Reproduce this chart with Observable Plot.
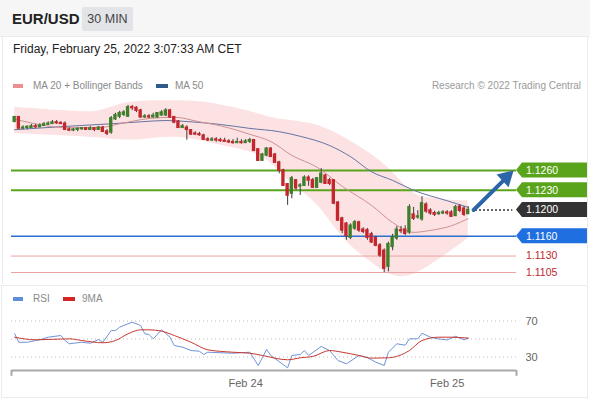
<!DOCTYPE html>
<html><head><meta charset="utf-8">
<script src="https://cdn.jsdelivr.net/npm/d3@7"></script>
<script src="https://cdn.jsdelivr.net/npm/@observablehq/plot@0.6"></script>
<style>
html,body{margin:0;padding:0;background:#fff;}
body{width:590px;height:400px;position:relative;overflow:hidden;font-family:"Liberation Sans",Arial,Helvetica,sans-serif;}
.abs{position:absolute;white-space:nowrap;}
#topbar{left:0;top:0;width:590px;height:36px;background:#f6f6f6;border-bottom:1px solid #ebebeb;}
#sym{left:12px;top:10px;font-size:15px;font-weight:bold;color:#222;}
#tf{left:82px;top:7px;width:51px;height:24px;background:#e2e4e8;border-radius:2px;font-size:12.5px;color:#444;line-height:24px;text-align:center;}
#date{left:13px;top:42px;font-size:12px;color:#222;}
.leg{font-size:10px;color:#8a8a8a;line-height:12px;}
.sw{position:absolute;width:10px;height:4px;}
#card1{left:2px;top:37px;width:584px;height:247px;border-left:1px solid #ececec;border-right:1px solid #ececec;}
#card2{left:1px;top:285px;width:585px;height:111px;border:1px solid #ececec;}
#main{left:0;top:100px;}
#rsi{left:0;top:310px;}
</style></head><body>
<div id="topbar" class="abs"></div>
<div id="card1" class="abs"></div>
<div id="card2" class="abs"></div>
<div id="sym" class="abs">EUR/USD</div>
<div id="tf" class="abs">30 MIN</div>
<div id="date" class="abs">Friday, February 25, 2022 3:07:33 AM CET</div>
<div class="sw" style="left:13px;top:84px;background:#ee8e8e"></div>
<div class="abs leg" style="left:33px;top:80px">MA 20 + Bollinger Bands</div>
<div class="sw" style="left:156px;top:84px;width:12px;background:#2f5b8c"></div>
<div class="abs leg" style="left:175px;top:80px">MA 50</div>
<div class="abs leg" style="right:9px;top:80px;color:#9a9a9a">Research © 2022 Trading Central</div>
<div class="sw" style="left:13px;top:297px;background:#5f8fd8"></div>
<div class="abs leg" style="left:33px;top:293px">RSI</div>
<div class="sw" style="left:63px;top:297px;width:12px;background:#d42424"></div>
<div class="abs leg" style="left:82px;top:293px">9MA</div>
<div id="main" class="abs"></div>
<div id="rsi" class="abs"></div>
<script>
const FONT = '"Liberation Sans", Arial, Helvetica, sans-serif';
const START = Date.UTC(2022, 1, 22, 20, 30); // first 30-min candle
const STEP = 30 * 60 * 1000;

const opens = [
1.1334,1.1341,1.1324,1.1325,1.1325,1.1327,1.1326,1.1328,1.1330,1.1331,
1.1333,1.1332,1.1331,1.1322,1.1321,1.1322,1.1323,1.1324,1.1322,1.1324,
1.1322,1.1325,1.1319,1.1318,1.1338,1.1342,1.1345,1.1342,1.1356,1.1355,
1.1351,1.1341,1.1342,1.1341,1.1341,1.1344,1.1344,1.1351,1.1341,1.1334,
1.1325,1.1325,1.1321,1.1316,1.1315,1.1313,1.1307,1.1306,1.1307,1.1306,
1.1305,1.1304,1.1303,1.1302,1.1303,1.1302,1.1304,1.1306,1.1292,1.1275,
1.1283,1.1293,1.1284,1.1272,1.1260,1.1239,1.1225,1.1245,1.1236,1.1237,
1.1249,1.1245,1.1234,1.1242,1.1252,1.1245,1.1245,1.1211,1.1187,1.1179,
1.1158,1.1172,1.1181,1.1170,1.1169,1.1163,1.1157,1.1146,1.1138,1.1114,
1.1144,1.1157,1.1169,1.1170,1.1166,1.1193,1.1189,1.1186,1.1208,1.1199,
1.1195,1.1194,1.1195,1.1196,1.1196,1.1191,1.1205,1.1202,1.1194];
const closes = [
1.1341,1.1324,1.1325,1.1326,1.1327,1.1326,1.1328,1.1330,1.1331,1.1333,
1.1332,1.1331,1.1322,1.1321,1.1322,1.1323,1.1324,1.1322,1.1324,1.1322,
1.1325,1.1319,1.1316,1.1339,1.1344,1.1347,1.1348,1.1356,1.1355,1.1351,
1.1341,1.1342,1.1341,1.1343,1.1347,1.1348,1.1351,1.1341,1.1333,1.1325,
1.1327,1.1322,1.1315,1.1315,1.1314,1.1307,1.1306,1.1307,1.1306,1.1305,
1.1304,1.1303,1.1302,1.1303,1.1302,1.1304,1.1306,1.1290,1.1275,1.1284,
1.1293,1.1281,1.1272,1.1260,1.1237,1.1222,1.1248,1.1233,1.1237,1.1249,
1.1245,1.1234,1.1248,1.1255,1.1240,1.1240,1.1210,1.1184,1.1169,1.1161,
1.1176,1.1181,1.1169,1.1167,1.1158,1.1151,1.1146,1.1131,1.1111,1.1148,
1.1158,1.1170,1.1168,1.1164,1.1204,1.1187,1.1190,1.1210,1.1198,1.1195,
1.1193,1.1195,1.1196,1.1195,1.1190,1.1204,1.1199,1.1193,1.1200];
const highs = [
1.1342,1.1342,1.1328,1.1328,1.1330,1.1330,1.1331,1.1333,1.1334,1.1336,
1.1336,1.1334,1.1334,1.1325,1.1324,1.1325,1.1325,1.1325,1.1327,1.1325,
1.1327,1.1327,1.1322,1.1342,1.1347,1.1350,1.1351,1.1359,1.1359,1.1357,
1.1353,1.1345,1.1345,1.1347,1.1348,1.1351,1.1354,1.1353,1.1342,1.1336,
1.1330,1.1328,1.1322,1.1319,1.1318,1.1315,1.1310,1.1310,1.1310,1.1309,
1.1309,1.1307,1.1307,1.1309,1.1307,1.1307,1.1309,1.1307,1.1293,1.1286,
1.1295,1.1295,1.1286,1.1274,1.1262,1.1240,1.1251,1.1246,1.1240,1.1252,
1.1252,1.1248,1.1249,1.1263,1.1254,1.1248,1.1246,1.1213,1.1189,1.1181,
1.1179,1.1184,1.1183,1.1173,1.1172,1.1166,1.1160,1.1149,1.1141,1.1151,
1.1163,1.1175,1.1175,1.1176,1.1208,1.1204,1.1199,1.1220,1.1211,1.1202,
1.1198,1.1198,1.1199,1.1199,1.1199,1.1207,1.1208,1.1205,1.1205];
const lows = [
1.1333,1.1322,1.1322,1.1322,1.1324,1.1324,1.1325,1.1327,1.1328,1.1330,
1.1330,1.1330,1.1321,1.1319,1.1319,1.1319,1.1321,1.1321,1.1321,1.1319,
1.1321,1.1318,1.1313,1.1315,1.1336,1.1339,1.1342,1.1341,1.1351,1.1348,
1.1339,1.1339,1.1339,1.1340,1.1339,1.1342,1.1342,1.1339,1.1331,1.1324,
1.1324,1.1306,1.1313,1.1313,1.1312,1.1306,1.1304,1.1304,1.1303,1.1303,
1.1303,1.1301,1.1300,1.1301,1.1300,1.1301,1.1301,1.1289,1.1274,1.1274,
1.1281,1.1280,1.1271,1.1255,1.1236,1.1207,1.1217,1.1230,1.1222,1.1236,
1.1236,1.1233,1.1233,1.1240,1.1239,1.1237,1.1208,1.1183,1.1164,1.1154,
1.1155,1.1169,1.1166,1.1164,1.1154,1.1149,1.1144,1.1128,1.1105,1.1106,
1.1138,1.1154,1.1164,1.1161,1.1163,1.1184,1.1186,1.1183,1.1195,1.1192,
1.1190,1.1192,1.1193,1.1192,1.1189,1.1190,1.1196,1.1190,1.1193];

// indicator readings (candle index, value)
const ma50Idx = [0,12,23,30,36,42,49,56,63,68,75,80,85,90,95,103,108];
const ma50 = [1.1322,1.1327,1.1331,1.1334,1.1336,1.1334,1.1330,1.1324,1.1319,1.1312,1.1298,1.1281,1.1258,1.1245,1.1230,1.1214,1.1204];
const ma20Idx = [0,13,20,25,32,38,44,49,56,61,66,72,78,85,90,95,99,104,108];
const ma20 = [1.1338,1.1325,1.1325,1.1331,1.1339,1.1341,1.1334,1.1328,1.1315,1.1304,1.1283,1.1265,1.1236,1.1207,1.1181,1.1166,1.1169,1.1176,1.1187];
const bbIdx = [0,12,20,25,30,38,44,49,56,61,66,72,78,85,90,95,99,104,108];
const bbUpper = [1.1356,1.1351,1.1347,1.1362,1.1366,1.1366,1.1365,1.1360,1.1351,1.1339,1.1336,1.1331,1.1313,1.1285,1.1260,1.1220,1.1219,1.1214,1.1214];
const bbLower = [1.1316,1.1313,1.1310,1.1306,1.1306,1.1313,1.1306,1.1298,1.1290,1.1275,1.1237,1.1214,1.1154,1.1120,1.1096,1.1100,1.1116,1.1138,1.1157];

const rsiIdx = [0,1,3,5,6,8,11,12,13,16,18,20,21,23,24,25,26,28,30,31,32,33,35,37,38,40,42,44,45,46,52,56,58,60,61,65,66,68,69,70,73,75,77,79,82,84,86,88,89,91,93,94,96,97,99,101,103,105,107,108];
const rsiVals = [55.8,46.4,46.4,48.3,49.1,52,53.9,48.3,44.7,46.4,45.3,49.4,46.4,59.4,59.4,63.1,65,68.7,65,55.8,55,50.2,60.2,52,42.8,40.9,37.2,36.4,32.8,35.3,34.2,35.3,20.6,38.3,31.7,18,31.7,32.8,37.2,31.7,41.7,37.2,26.1,22.4,31.7,29.4,24.2,20.6,35.3,44.7,43.1,50.2,50.2,56.4,52,50,49,53,49,51];
const ma9Idx = [0,5,13,16,21,24,27,30,32,35,38,42,46,52,56,59,65,68,71,75,78,82,85,89,94,97,101,104,108];
const ma9Vals = [52,49.1,50.2,48.3,45.8,48.3,55.8,60.2,60.2,58.7,53.9,46.4,38,35.3,34.2,31.7,26.9,29.1,30.6,37.2,35.3,31.7,28.7,29.1,37.2,48.3,52,52,51];

// key levels and their tag labels
const levels = [1.1260, 1.1230, 1.1200, 1.1160, 1.1130, 1.1105];
const levelLabels = ["1.1260", "1.1230", "1.1200", "1.1160", "1.1130", "1.1105"];
const levelKind = ["resist", "resist", "last", "support", "support2", "support2"];

// forecast arrow (time, price)
const forecastFrom = {t: new Date(Date.UTC(2022,1,25,3,9)), p: 1.1200};
const forecastTo = {t: new Date(Date.UTC(2022,1,25,7,54)), p: 1.1260};
const lastStubEnd = new Date(Date.UTC(2022,1,25,7,48));
const lastStubStart = new Date(Date.UTC(2022,1,25,3,24));

const dayTicks = [new Date(Date.UTC(2022,1,24)), new Date(Date.UTC(2022,1,25))];
const rsiTicks = [70, 30];
const rsiGrid = [30, 50, 70];

const time = k => new Date(START + k * STEP);
const candles = opens.map((o, i) => ({t: time(i), open: o, close: closes[i], high: highs[i], low: lows[i]}));
const ser = (idx, vals) => idx.map((k, j) => ({t: time(k), v: vals[j]}));
const bands = bbIdx.map((k, j) => ({t: time(k), hi: bbUpper[j], lo: bbLower[j]}));

const xDomain = [new Date(START - 0.75 * STEP), new Date(START + 119.5 * STEP)];
const W = 590, ML = 11, MR = 74;

const styleColors = {
  resist: {box: "#5aa41c", text: "#ffffff", line: "#5aa41c", w: 2},
  last: {box: "#333333", text: "#ffffff"},
  support: {box: "#1f6fe0", text: "#ffffff", line: "#2a6fcf", w: 1.5},
  support2: {box: null, text: "#c0282d", line: "#eaa3a3", w: 1}
};

const tagMark = (index, scales, values, dims) => {
  const g = d3.create("svg:g").attr("font-family", FONT).attr("font-size", 10.5).attr("text-anchor", "start");
  const x0 = dims.width - dims.marginRight;
  levels.forEach((v, k) => {
    const s = styleColors[levelKind[k]];
    const y = scales.y(v);
    if (s.box) {
      g.append("path")
        .attr("d", `M${x0},${y}L${x0 + 6},${y - 7.5}H${x0 + 71}V${y + 7.5}H${x0 + 6}Z`)
        .attr("fill", s.box);
    }
    g.append("text").attr("x", x0 + 10).attr("y", y).attr("dy", "0.36em")
      .attr("text-anchor", "start")
      .attr("fill", s.text).text(levelLabels[k]);
  });
  return g.node();
};

const lineLevels = levels.map((v, k) => ({v, kind: levelKind[k]})).filter(d => styleColors[d.kind].line);
const ARROW = "#2c65a8";

const main = Plot.plot({
  width: W, height: 183,
  marginLeft: ML, marginRight: MR, marginTop: 0, marginBottom: 0,
  style: {background: "transparent", fontFamily: FONT, overflow: "visible"},
  x: {type: "utc", domain: xDomain, axis: null},
  y: {domain: [1.10883, 1.13664], axis: null},
  marks: [
    Plot.areaY(bands, {x: "t", y1: "lo", y2: "hi", fill: "#fce2e2", curve: "basis"}),
    Plot.ruleY(lineLevels, {y: "v", stroke: d => styleColors[d.kind].line, strokeWidth: d => styleColors[d.kind].w}),
    Plot.line(ser(ma50Idx, ma50), {x: "t", y: "v", stroke: "#6574a3", strokeWidth: 1, curve: "monotone-x"}),
    Plot.line(ser(ma20Idx, ma20), {x: "t", y: "v", stroke: "#d09090", strokeWidth: 1, curve: "monotone-x"}),
    Plot.ruleX(candles, {x: "t", y1: "low", y2: "high", stroke: "#3c3c3c", strokeWidth: 1}),
    Plot.rect(candles, {
      x1: d => new Date(+d.t - 12 * 60000), x2: d => new Date(+d.t + 12 * 60000),
      y1: "open", y2: "close",
      fill: d => d.close >= d.open ? "#3f7f2c" : "#c4262e",
      insetTop: -0.8, insetBottom: -0.8
    }),
    Plot.ruleY([forecastFrom.p], {x1: lastStubStart, x2: lastStubEnd, stroke: "#333", strokeWidth: 2, strokeDasharray: "1.5,2.5"}),
    Plot.arrow([0], {
      x1: () => forecastFrom.t, y1: () => forecastFrom.p,
      x2: () => forecastTo.t, y2: () => forecastTo.p,
      stroke: ARROW, strokeWidth: 4, headLength: 0, insetEnd: 8
    }),
    Plot.dot([0], {
      x: () => forecastTo.t, y: () => forecastTo.p,
      symbol: "triangle", r: 6.5, fill: ARROW, stroke: "none",
      rotate: 46.5, dx: -7.3, dy: 6.9
    }),
    tagMark
  ]
});
document.getElementById("main").appendChild(main);

const rsiPlot = Plot.plot({
  width: W, height: 90,
  marginLeft: ML, marginRight: MR, marginTop: 0, marginBottom: 30,
  style: {background: "transparent", fontFamily: FONT, fontSize: "11px", color: "#666", overflow: "visible"},
  x: {type: "utc", domain: xDomain, ticks: dayTicks, tickFormat: d3.utcFormat("%b %-d"), tickSize: 0, tickPadding: 9, label: null},
  y: {domain: [15, 81.67], axis: "right", ticks: rsiTicks, tickSize: 0, tickPadding: 9, label: null},
  marks: [
    Plot.ruleY(rsiGrid, {stroke: "#bdbdbd", strokeDasharray: "1,3"}),
    Plot.line(ser(rsiIdx, rsiVals), {x: "t", y: "v", stroke: "#6f93d6", strokeWidth: 1}),
    Plot.line(ser(ma9Idx, ma9Vals), {x: "t", y: "v", stroke: "#c8382f", strokeWidth: 1, curve: "monotone-x"}),
    Plot.ruleY([15], {stroke: "#a9a9a9", strokeWidth: 2}),
    Plot.ruleX(xDomain, {y1: 15, y2: 8.5, stroke: "#a9a9a9", strokeWidth: 2})
  ]
});
document.getElementById("rsi").appendChild(rsiPlot);
</script>
</body></html>
